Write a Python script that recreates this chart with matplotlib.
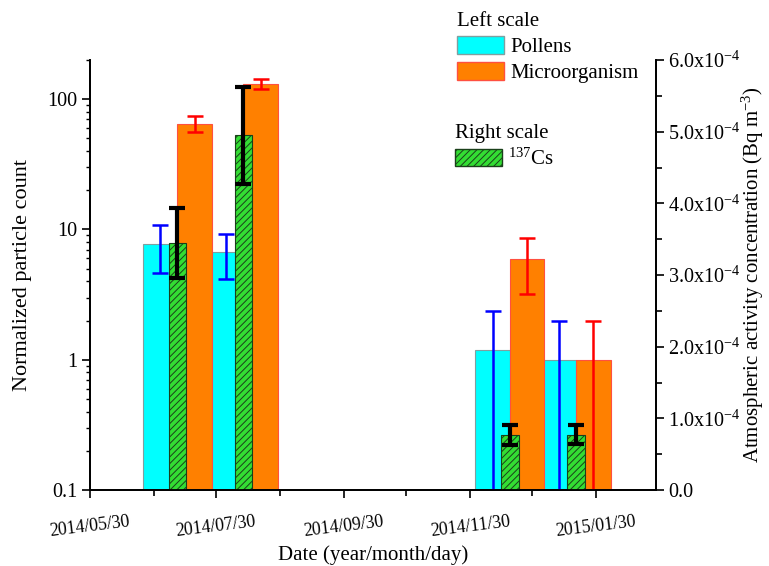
import numpy as np
import matplotlib
matplotlib.use("Agg")
import matplotlib.pyplot as plt
import matplotlib.dates as mdates
from matplotlib.patches import Patch
import datetime as dt

plt.rcParams['font.family'] = ['Liberation Serif', 'DejaVu Serif']
plt.rcParams['mathtext.fontset'] = 'custom'
plt.rcParams['mathtext.rm'] = 'Liberation Serif'
plt.rcParams['mathtext.default'] = 'rm'
plt.rcParams['hatch.linewidth'] = 0.7

# group positions (date of the pollen bar)
datas = [dt.date(2014, 7, 3), dt.date(2014, 8, 4), dt.date(2014, 12, 11), dt.date(2015, 1, 12)]

pollens = [7.7, 6.7, 1.19, 1.0]
pollens_err = [3.1, 2.5, 1.18, 0.97]
micro = [65, 131, 5.9, 1.0]
micro_err = [9, 11, 2.7, 0.97]
cs137 = [3.45e-4, 4.95e-4, 0.77e-4, 0.77e-4]
cs137_err = [0.49e-4, 0.68e-4, 0.14e-4, 0.135e-4]

ticks_maj = [dt.date(2014, 5, 30), dt.date(2014, 7, 30), dt.date(2014, 9, 30),
             dt.date(2014, 11, 30), dt.date(2015, 1, 30)]
ticks_min = [dt.date(2014, 6, 30), dt.date(2014, 8, 30), dt.date(2014, 10, 30),
             dt.date(2014, 12, 30)]

x = mdates.date2num(datas)
larg = 16.8

fig = plt.figure(figsize=(7.69, 5.66), dpi=100)
ax = fig.add_axes([90/769, 76/566, 566/769, 430/566])
ax2 = ax.twinx()

ax.bar(x, pollens, width=larg, color='#00ffff', edgecolor='#7fa0a0', linewidth=0.8, zorder=2)
ax.bar(x + 16.6, micro, width=larg, color='#ff8000', edgecolor='#ff5040', linewidth=0.8, zorder=2)
ax.errorbar(x, pollens, yerr=pollens_err, fmt='none', ecolor='#0000ff', elinewidth=1.8, capsize=6, capthick=1.8, zorder=3)
ax.errorbar(x + 16.6, micro, yerr=micro_err, fmt='none', ecolor='#ff0000', elinewidth=1.8, capsize=6, capthick=1.8, zorder=3)

ax2.bar(x + 8.3, cs137, width=8.3, color='#33dd33', edgecolor='#1a401a', hatch='/////', linewidth=0.8, zorder=2)
ax2.errorbar(x + 8.3, cs137, yerr=cs137_err, fmt='none', ecolor='black', elinewidth=3, capsize=6, capthick=3, zorder=3)

ax.set_yscale('log')
ax.set_ylim(0.1, 200)
ax.set_yticks([0.1, 1, 10, 100])
ax.set_yticklabels(['0.1', '1', '10', '100'], fontsize=14.5)
ax2.set_ylim(0, 6e-4)
ax2.set_yticks(np.arange(0, 6.01e-4, 1e-4))
ax2.set_yticks(np.arange(0.5e-4, 6e-4, 1e-4), minor=True)
ax2.set_yticklabels(['0.0'] + ['%.1fx10$^{-4}$' % v for v in range(1, 7)], fontsize=14.5)

ax.set_xlim(mdates.date2num(dt.date(2014, 5, 30)), mdates.date2num(dt.date(2015, 2, 28)))
ax.set_xticks(mdates.date2num(ticks_maj))
ax.set_xticks(mdates.date2num(ticks_min), minor=True)
ax.set_xticklabels([d.strftime('%Y/%m/%d') for d in ticks_maj], rotation=7, fontsize=12.8)
ax.tick_params(axis='x', which='major', length=6, width=1.2, pad=11)
ax.tick_params(axis='x', which='minor', length=4, width=1.2)
ax.tick_params(axis='y', which='major', length=6, width=1.2, pad=3)
ax.tick_params(axis='y', which='minor', length=3, width=1.0)
ax2.tick_params(axis='y', which='major', length=6, width=1.2, pad=3)
ax2.tick_params(axis='y', which='minor', length=4, width=1.2)

for a in (ax, ax2):
    a.spines['top'].set_visible(False)
    for s in ('left', 'right', 'bottom'):
        a.spines[s].set_linewidth(1.3)

ax.set_ylabel('Normalized particle count', fontsize=16)
ax2.set_ylabel('Atmospheric activity concentration (Bq m$^{-3}$)', fontsize=15)
ax.set_xlabel('Date (year/month/day)', fontsize=15)
ax.yaxis.set_label_coords(-0.102, 0.5)
ax2.yaxis.set_label_coords(1.148, 0.5)
ax.xaxis.set_label_coords(0.5, -0.128)

leg_kw = dict(loc='upper left', frameon=False, alignment='left', handlelength=2.25,
              handleheight=0.9, handletextpad=0.3, labelspacing=0.25, fontsize=15,
              title_fontsize=15, borderaxespad=0, borderpad=0)
leg1 = fig.legend(handles=[Patch(facecolor='#00ffff', edgecolor='#7fa0a0', label='Pollens'),
                           Patch(facecolor='#ff8000', edgecolor='#ff5040', label='Microorganism')],
                  title='Left scale', bbox_to_anchor=(457/769, 1 - 12/566), **leg_kw)
leg2 = fig.legend(handles=[Patch(facecolor='#33dd33', edgecolor='#1a401a', hatch='/////',
                                 label='$^{137}$Cs')],
                  title='Right scale', bbox_to_anchor=(455/769, 1 - 124/566), **leg_kw)

fig.savefig('out.png', dpi=100)
